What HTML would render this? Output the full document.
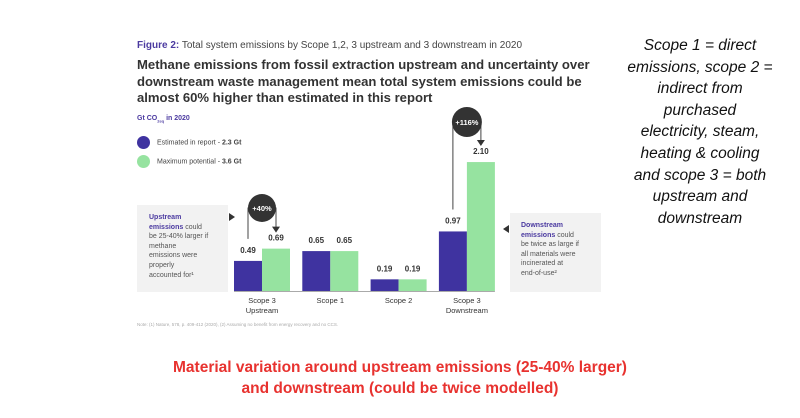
<!DOCTYPE html>
<html><head><meta charset="utf-8"><style>
body{margin:0;width:800px;height:418px;background:#fff;position:relative;overflow:hidden;font-family:"Liberation Sans",sans-serif}
.a{position:absolute}
</style></head><body>
<div class="a" style="left:137px;top:40px;font-size:10px;color:#444;white-space:nowrap"><b style="color:#4b3aa0">Figure 2:</b> Total system emissions by Scope 1,2, 3 upstream and 3 downstream in 2020</div>
<div class="a" style="left:137px;top:57px;font-size:13.1px;line-height:16.5px;font-weight:bold;color:#333;white-space:nowrap">Methane emissions from fossil extraction upstream and uncertainty over<br>downstream waste management mean total system emissions could be<br>almost 60% higher than estimated in this report</div>
<div class="a" style="left:137px;top:115px;font-size:7px;font-weight:bold;color:#4b3aa0">Gt CO<sub style="font-size:4px">2eq</sub> in 2020</div>
<div class="a" style="left:137px;top:136px;font-size:7px;color:#444;white-space:nowrap"><span style="display:inline-block;width:13px;height:13px;border-radius:50%;background:#3f33a0;vertical-align:middle;margin-right:7px"></span>Estimated in report - <b>2.3 Gt</b></div>
<div class="a" style="left:137px;top:155px;font-size:7px;color:#444;white-space:nowrap"><span style="display:inline-block;width:13px;height:13px;border-radius:50%;background:#96e3a0;vertical-align:middle;margin-right:7px"></span>Maximum potential - <b>3.6 Gt</b></div>
<div class="a" style="left:137px;top:205px;width:91px;height:87px;background:#f2f2f2"></div>
<div class="a" style="left:149px;top:213px;font-size:7px;line-height:9.6px;color:#555;width:75px"><b style="color:#4b3aa0">Upstream<br>emissions</b> could<br>be 25-40% larger if<br>methane<br>emissions were<br>properly<br>accounted for¹</div>
<div class="a" style="left:510px;top:213px;width:91px;height:79px;background:#f2f2f2"></div>
<div class="a" style="left:521px;top:221px;font-size:7px;line-height:9.6px;color:#555;width:78px"><b style="color:#4b3aa0">Downstream<br>emissions</b> could<br>be twice as large if<br>all materials were<br>incinerated at<br>end-of-use²</div>
<svg class="a" style="left:0;top:0" width="800" height="418" id="chart"></svg>
<div class="a" style="left:137px;top:322px;font-size:4.5px;color:#aaa">Note: (1) Nature, 578, p. 409-412 (2020), (2) Assuming no benefit from energy recovery and no CCS.</div>
<div class="a" style="left:610px;top:35px;width:180px;text-align:center;font-style:italic;font-size:15.5px;line-height:21.6px;color:#111">Scope 1 = direct<br>emissions, scope 2 =<br>indirect from<br>purchased<br>electricity, steam,<br>heating &amp; cooling<br>and scope 3 = both<br>upstream and<br>downstream</div>
<div class="a" style="left:100px;top:357px;width:600px;text-align:center;font-weight:bold;font-size:15.5px;line-height:21px;color:#e8322f">Material variation around upstream emissions (25-40% larger)<br>and downstream (could be twice modelled)</div>
<script>
const categories=[["Scope 3","Upstream"],["Scope 1"],["Scope 2"],["Scope 3","Downstream"]];
const estimated=[0.49,0.65,0.19,0.97];
const maximum=[0.69,0.65,0.19,2.10];
const NS="http://www.w3.org/2000/svg";
const svg=document.getElementById('chart');
const base=291,scale=61.4,x0=262,step=68.3,bw=28;
const y=v=>base-v*scale, cx=i=>x0+i*step;
function mk(t,a){const e=document.createElementNS(NS,t);for(const k in a)e.setAttribute(k,a[k]);svg.appendChild(e);return e;}
categories.forEach((c,i)=>{
 [[estimated,'#3f33a0',-bw],[maximum,'#96e3a0',0]].forEach(([arr,col,off],s)=>{
  const r=mk('rect',{x:cx(i)+off,y:y(arr[i]),width:bw,height:arr[i]*scale,fill:col});
  
  
  const t=mk('text',{x:cx(i)+off+bw/2,y:y(arr[i])-8,'text-anchor':'middle','font-size':'8','font-weight':'bold',fill:'#333','font-family':'Liberation Sans'});
  t.textContent=arr[i].toFixed(2);
  
  
 });
 c.forEach((l,j)=>{const t=mk('text',{x:cx(i),y:base+12+j*10,'text-anchor':'middle','font-size':'7.5',fill:'#333','font-family':'Liberation Sans'});t.textContent=l;
  
  });
});
const ax=mk('line',{x1:cx(0)-bw,x2:cx(3)+bw,y1:base+0.5,y2:base+0.5,stroke:'#aaa','stroke-width':1});


function callout(i,label,cyy,r){
 const x1=cx(i)-bw/2, x2=cx(i)+bw/2;
 mk('path',{d:`M${x1} ${y(estimated[i])-22} V${cyy} H${x2} V${y(maximum[i])-20}`,fill:'none',stroke:'#444','stroke-width':1});
 mk('path',{d:`M${x2-4} ${y(maximum[i])-22} h8 l-4 6 z`,fill:'#333'});
 const c=mk('circle',{cx:(x1+x2)/2,cy:cyy,r:r,fill:'#333'});
 
 
 const t=mk('text',{x:(x1+x2)/2,y:cyy+3,'text-anchor':'middle','font-size':'7.5','font-weight':'bold',fill:'#fff','font-family':'Liberation Sans'});t.textContent=label;
}
callout(0,'+40%',208,14);
callout(3,'+116%',122,15);
mk('path',{d:'M229 213 l6 4 l-6 4 z',fill:'#333'});
mk('path',{d:'M509 225 l-6 4 l6 4 z',fill:'#333'});
</script>
</body></html>
